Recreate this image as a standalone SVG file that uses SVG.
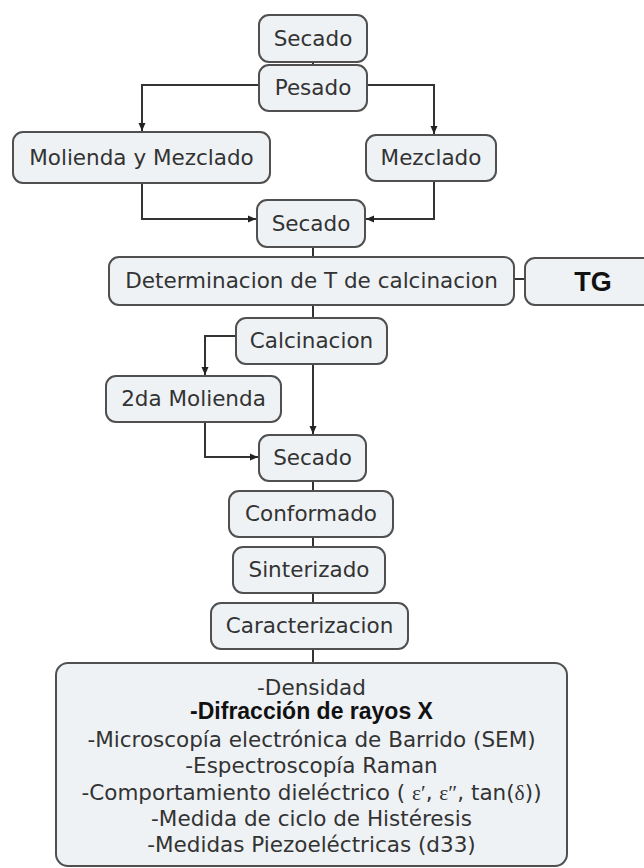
<svg xmlns="http://www.w3.org/2000/svg" width="644" height="868" viewBox="0 0 644 868">
<defs>
<style>
.box{fill:#eef2f5;stroke:#505050;stroke-width:2}
.t{font-family:"DejaVu Sans",Verdana,sans-serif;font-size:21.5px;fill:#333;text-anchor:middle}
.b{font-family:"Liberation Sans",Arial,sans-serif;font-weight:bold;fill:#111;text-anchor:middle}
.ln{fill:none;stroke:#333;stroke-width:2}
.sy{font-family:"Liberation Serif","Times New Roman",serif}
</style>
<marker id="ar" markerUnits="userSpaceOnUse" markerWidth="10" markerHeight="10" viewBox="0 0 10 10" refX="9" refY="5" orient="auto">
<path d="M1,1.5 L9,5 L1,8.5 Z" fill="#222"/>
</marker>
</defs>
<rect width="644" height="868" fill="#fff"/>
<g id="connectors">
<path class="ln" d="M313,62 V65"/>
<path class="ln" d="M259,85 H142 V131" marker-end="url(#ar)"/>
<path class="ln" d="M367,85 H434 V134" marker-end="url(#ar)"/>
<path class="ln" d="M142,183 V219 H256" marker-end="url(#ar)"/>
<path class="ln" d="M434,181 V219 H366" marker-end="url(#ar)"/>
<path class="ln" d="M313,247 V257"/>
<path class="ln" d="M514,279 H525"/>
<path class="ln" d="M313,305 V318"/>
<path class="ln" d="M236,336 H205 V375" marker-end="url(#ar)"/>
<path class="ln" d="M313,364 V434" marker-end="url(#ar)"/>
<path class="ln" d="M205,422 V457 H258" marker-end="url(#ar)"/>
<path class="ln" d="M313,481 V491"/>
<path class="ln" d="M313,537 V547"/>
<path class="ln" d="M313,593 V603"/>
<path class="ln" d="M313,649 V663"/>
</g>
<g id="secado1"><rect class="box" x="259" y="15" width="108" height="47" rx="10"/><text class="t" x="313" y="46">Secado</text></g>
<g id="pesado"><rect class="box" x="259" y="65" width="108" height="46" rx="10"/><text class="t" x="313" y="95">Pesado</text></g>
<g id="molienda"><rect class="box" x="13" y="132" width="257" height="51" rx="10"/><text class="t" x="141.5" y="165">Molienda y Mezclado</text></g>
<g id="mezclado"><rect class="box" x="366" y="135" width="130" height="46" rx="10"/><text class="t" x="431" y="165">Mezclado</text></g>
<g id="secado2"><rect class="box" x="257" y="200" width="108" height="47" rx="10"/><text class="t" x="311" y="231">Secado</text></g>
<g id="determinacion"><rect class="box" x="109" y="257" width="405" height="48" rx="10"/><text class="t" x="311.5" y="288">Determinacion de T de calcinacion</text></g>
<g id="tg"><rect class="box" x="525" y="258" width="130" height="47" rx="10"/><text class="b" x="593" y="291" font-size="27">TG</text></g>
<g id="calcinacion"><rect class="box" x="236" y="318" width="151" height="46" rx="10"/><text class="t" x="311.5" y="348">Calcinacion</text></g>
<g id="molienda2"><rect class="box" x="106" y="376" width="175" height="46" rx="10"/><text class="t" x="193.5" y="406">2da Molienda</text></g>
<g id="secado3"><rect class="box" x="259" y="435" width="107" height="46" rx="10"/><text class="t" x="312.5" y="465">Secado</text></g>
<g id="conformado"><rect class="box" x="229" y="491" width="164" height="46" rx="10"/><text class="t" x="311" y="521">Conformado</text></g>
<g id="sinterizado"><rect class="box" x="233" y="547" width="152" height="46" rx="10"/><text class="t" x="309" y="577">Sinterizado</text></g>
<g id="caracterizacion"><rect class="box" x="211" y="603" width="197" height="46" rx="10"/><text class="t" x="309.5" y="633">Caracterizacion</text></g>
<g id="tecnicas">
<rect class="box" x="56" y="663" width="511" height="203" rx="12"/>
<text class="t" x="311.5" y="695">-Densidad</text>
<text class="b" x="311.5" y="719" font-size="23">-Difracción de rayos X</text>
<text class="t" x="311.5" y="747">-Microscopía electrónica de Barrido (SEM)</text>
<text class="t" x="311.5" y="773">-Espectroscopía Raman</text>
<text class="t" x="311.5" y="800">-Comportamiento dieléctrico ( <tspan class="sy">ε′</tspan>, <tspan class="sy">ε″</tspan>, tan(<tspan class="sy">δ</tspan>))</text>
<text class="t" x="311.5" y="826">-Medida de ciclo de Histéresis</text>
<text class="t" x="311.5" y="852">-Medidas Piezoeléctricas (d33)</text>
</g>
</svg>
